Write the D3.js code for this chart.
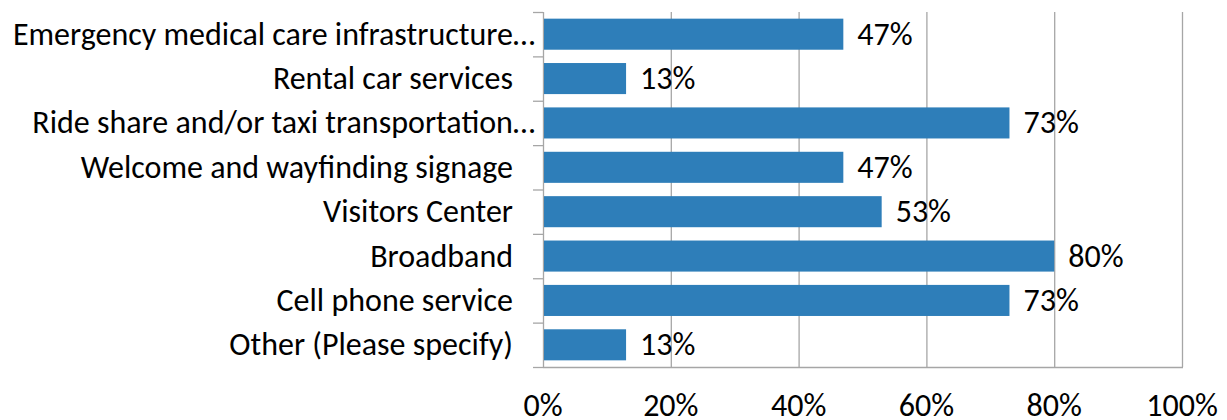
<!DOCTYPE html>
<html>
<head>
<meta charset="utf-8">
<script src="https://cdn.jsdelivr.net/npm/d3@7"></script>
<style>
  body { margin: 0; background: #fff; }
  svg text { font-family: Carlito, Calibri, Lato, sans-serif; fill: #000; }
</style>
</head>
<body>
<div id="chart"></div>
<script>
// data
var categories = [
    "Emergency medical care infrastructure…",
    "Rental car services",
    "Ride share and/or taxi transportation…",
    "Welcome and wayfinding signage",
    "Visitors Center",
    "Broadband",
    "Cell phone service",
    "Other (Please specify)"
];
var values = [47, 13, 73, 47, 53, 80, 73, 13];
var xTicks = [0, 20, 40, 60, 80, 100];

var width = 1227, height = 420;
var margin = {top: 12, right: 45, bottom: 53, left: 543};
var innerW = width - margin.left - margin.right;
var innerH = height - margin.top - margin.bottom;
var fontSize = 32;

var svg = d3.select('#chart').append('svg')
    .attr('width', width)
    .attr('height', height);

var g = svg.append('g')
    .attr('transform', 'translate(' + margin.left + ',' + margin.top + ')');

var x = d3.scaleLinear().domain([0, 100]).range([0, innerW]);
var y = d3.scaleBand().domain(categories).range([0, innerH]).paddingInner(0.3).paddingOuter(0.15);

// vertical gridlines
g.selectAll('line.grid')
    .data(xTicks)
  .enter().append('line')
    .attr('class', 'grid')
    .attr('x1', function(d) { return x(d) + 0.5; })
    .attr('x2', function(d) { return x(d) + 0.5; })
    .attr('y1', 0)
    .attr('y2', innerH)
    .attr('stroke', '#a6a6a6')
    .attr('stroke-width', 1.3);

// bottom axis line
g.append('line')
    .attr('x1', 0).attr('x2', innerW + 1)
    .attr('y1', innerH + 0.5).attr('y2', innerH + 0.5)
    .attr('stroke', '#a6a6a6')
    .attr('stroke-width', 1.3);

// left axis ticks at category boundaries
var step = innerH / categories.length;
g.selectAll('line.ytick')
    .data(d3.range(categories.length + 1))
  .enter().append('line')
    .attr('class', 'ytick')
    .attr('x1', -10).attr('x2', 0)
    .attr('y1', function(i) { return i * step + 0.5; })
    .attr('y2', function(i) { return i * step + 0.5; })
    .attr('stroke', '#a6a6a6')
    .attr('stroke-width', 1.3);

// bars
g.selectAll('rect.bar')
    .data(values)
  .enter().append('rect')
    .attr('class', 'bar')
    .attr('x', 1)
    .attr('y', function(d, i) { return y(categories[i]); })
    .attr('width', function(d) { return x(d) - 1; })
    .attr('height', y.bandwidth())
    .attr('fill', '#2e7eb9');

// value labels
g.selectAll('text.val')
    .data(values)
  .enter().append('text')
    .attr('class', 'val')
    .attr('x', function(d) { return x(d) + 14; })
    .attr('y', function(d, i) { return y(categories[i]) + y.bandwidth() / 2 + 10.5; })
    .style('font-size', fontSize + 'px')
    .text(function(d) { return d + '%'; });

// category labels
g.selectAll('text.cat')
    .data(categories)
  .enter().append('text')
    .attr('class', 'cat')
    .attr('text-anchor', 'end')
    .attr('x', function(d) { return d.endsWith('…') ? -8 : -30; })
    .attr('y', function(d) { return y(d) + y.bandwidth() / 2 + 10.5; })
    .style('font-size', fontSize + 'px')
    .text(function(d) { return d; });

// x tick labels
g.selectAll('text.xtick')
    .data(xTicks)
  .enter().append('text')
    .attr('class', 'xtick')
    .attr('text-anchor', 'middle')
    .attr('x', function(d) { return x(d); })
    .attr('y', innerH + 49)
    .style('font-size', fontSize + 'px')
    .text(function(d) { return d + '%'; });
</script>
</body>
</html>
